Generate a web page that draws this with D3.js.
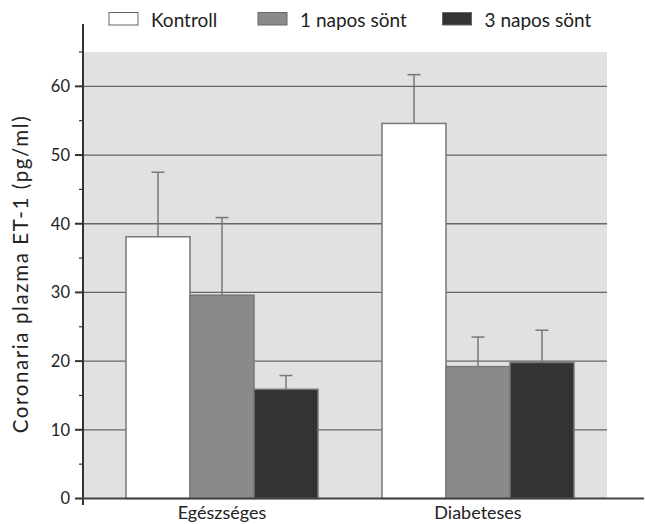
<!DOCTYPE html>
<html><head><meta charset="utf-8">
<script src="https://cdn.jsdelivr.net/npm/d3@7"></script>
<style>body{margin:0;background:#fff}svg{display:block}text{font-family:Lato,"Open Sans",sans-serif;fill:#222}</style>
</head><body><svg id="c" width="645" height="524"></svg>
<script>
const categories = ["Egészséges", "Diabeteses"];
const seriesNames = ["Kontroll", "1 napos sönt", "3 napos sönt"];
const kontroll = [38.1, 54.6];
const napos1 = [29.6, 19.2];
const napos3 = [15.9, 19.8];
const kontrollErr = [9.4, 7.1];
const napos1Err = [11.3, 4.3];
const napos3Err = [2.0, 4.7];
const yTicks = [0, 10, 20, 30, 40, 50, 60];
const yTitle = "Coronaria plazma ET-1 (pg/ml)";

const colors = ["#ffffff", "#8a8a8d", "#333333"];
const values = [kontroll, napos1, napos3];
const errs = [kontrollErr, napos1Err, napos3Err];

const svg = d3.select("#c");
const y = d3.scaleLinear().domain([0, 65]).range([498.5, 52]);
const x0 = d3.scaleBand().domain(categories).range([94, 606]).paddingInner(0.25).paddingOuter(0.125);
const x1 = d3.scaleBand().domain(seriesNames).range([0, x0.bandwidth()]);
const plotL = 83, plotR = 607;

// background
svg.append("rect").attr("x", plotL).attr("y", y(65)).attr("width", plotR - plotL).attr("height", y(0) - y(65)).attr("fill", "#e1e1e3");

// gridlines
svg.append("g").selectAll("line").data(yTicks.filter(d => d > 0)).join("line")
  .attr("x1", plotL).attr("x2", plotR).attr("y1", d => y(d)).attr("y2", d => y(d))
  .attr("stroke", "#666").attr("stroke-width", 1.3);

// bars
const rows = [];
categories.forEach((c, i) => seriesNames.forEach((s, j) => rows.push({c, s, v: values[j][i], e: errs[j][i], col: colors[j]})));
const g = svg.append("g");
rows.forEach(r => {
  const cx = x0(r.c) + x1(r.s) + x1.bandwidth() / 2;
  g.append("line").attr("x1", cx).attr("x2", cx).attr("y1", y(r.v)).attr("y2", y(r.v + r.e)).attr("stroke", "#777").attr("stroke-width", 1.5);
  g.append("line").attr("x1", cx - 6.5).attr("x2", cx + 6.5).attr("y1", y(r.v + r.e)).attr("y2", y(r.v + r.e)).attr("stroke", "#777").attr("stroke-width", 1.5);
});
g.selectAll("rect").data(rows).join("rect")
  .attr("x", d => x0(d.c) + x1(d.s)).attr("y", d => y(d.v))
  .attr("width", x1.bandwidth()).attr("height", d => y(0) - y(d.v))
  .attr("fill", d => d.col).attr("stroke", "#777").attr("stroke-width", 1.5);

// y axis
svg.append("line").attr("x1", plotL).attr("x2", plotL).attr("y1", 24).attr("y2", 505).attr("stroke", "#333").attr("stroke-width", 2);
const minor = d3.range(5, 70, 10);
svg.append("g").selectAll("line").data(minor).join("line")
  .attr("x1", plotL - 4).attr("x2", plotL).attr("y1", d => y(d)).attr("y2", d => y(d)).attr("stroke", "#333").attr("stroke-width", 1.2);
svg.append("g").selectAll("line").data(yTicks).join("line")
  .attr("x1", plotL - 8).attr("x2", plotL).attr("y1", d => y(d)).attr("y2", d => y(d)).attr("stroke", "#333").attr("stroke-width", 2);
svg.append("g").selectAll("text").data(yTicks).join("text")
  .attr("x", plotL - 13).attr("y", d => y(d)).attr("dy", "0.36em").attr("text-anchor", "end")
  .attr("font-size", 16.5).text(d => d);

// x axis
svg.append("line").attr("x1", plotL - 1).attr("x2", 644).attr("y1", y(0)).attr("y2", y(0)).attr("stroke", "#444").attr("stroke-width", 2);
svg.append("g").selectAll("text").data(categories).join("text")
  .attr("x", d => x0(d) + x0.bandwidth() / 2).attr("y", 519).attr("text-anchor", "middle")
  .attr("font-size", 18).text(d => d);

// y title
svg.append("text").attr("transform", "translate(28,274) rotate(-90)").attr("text-anchor", "middle")
  .attr("font-size", 20.5).attr("letter-spacing", 1.6).text(yTitle);

// legend
const legX = [109, 258, 442.5];
const leg = svg.append("g");
seriesNames.forEach((s, i) => {
  leg.append("rect").attr("x", legX[i]).attr("y", 12.5).attr("width", 29).attr("height", 12.5)
    .attr("fill", colors[i]).attr("stroke", "#666").attr("stroke-width", 1);
  leg.append("text").attr("x", legX[i] + 42).attr("y", 27)
    .attr("font-size", 19).text(s);
});
</script></body></html>
